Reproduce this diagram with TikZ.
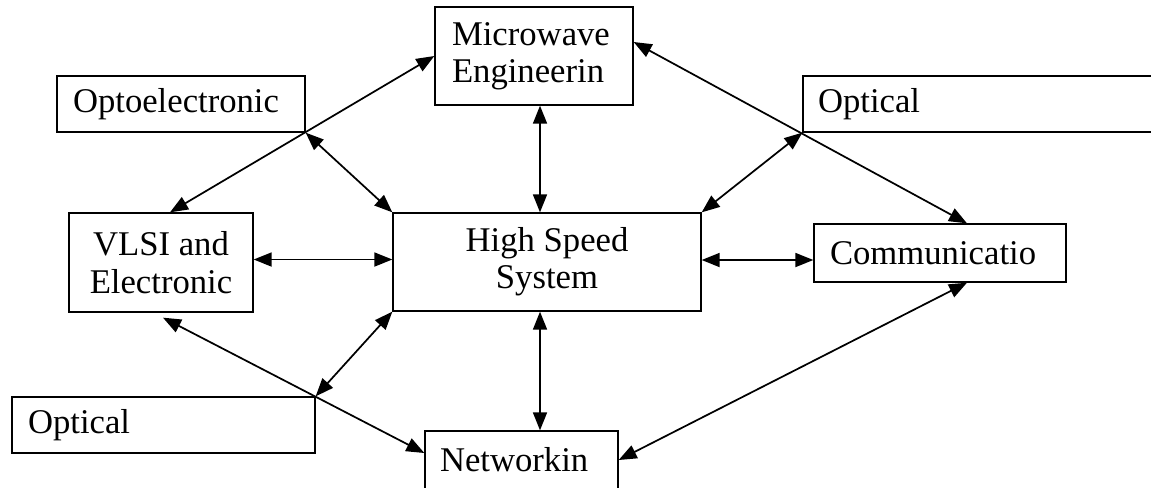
\documentclass[tikz,border=0pt]{standalone}
\usepackage{fontspec}
\setmainfont{Liberation Serif}
\usetikzlibrary{arrows.meta,calc}
\begin{document}
\begin{tikzpicture}[x=0.75pt,y=-0.75pt,
  >={Triangle[length=13.5pt,width=10.5pt]},
  box/.style={draw,line width=1pt,font=\fontsize{26}{28}\selectfont,inner ysep=0pt},
  lbox/.style n args={3}{box,text width=#1,minimum height=#2,inner xsep=#3,align=left},
  cbox/.style n args={2}{box,minimum width=#1,minimum height=#2,inner xsep=0pt,align=center},
  arr/.style={<->,line width=1.3pt}]
\useasboundingbox (0,0) rectangle (1151,487);
\clip (0,0) rectangle (1151,487);
\node[lbox={123pt}{73.5pt}{12.75pt}] (mw) at (534,56) {Microwave\\Engineerin};
\node[lbox={162pt}{42pt}{12pt}] (opto) at (181,104) {Optoelectronic};
\node[lbox={260.25pt}{42pt}{11.25pt}] (optr) at (991.5,104) {Optical};
\node[cbox={138pt}{74.25pt}] (vlsi) at (161,262.5) {VLSI and\\Electronic};
\node[cbox={231pt}{73.5pt}] (hs) at (547,262) {High Speed\\System};
\node[lbox={165pt}{43.5pt}{12pt}] (comm) at (940,253) {Communicatio};
\node[lbox={203.25pt}{42pt}{12pt}] (optl) at (163.5,425) {Optical};
\node[lbox={122.25pt}{43.5pt}{11.25pt}] (net) at (521.5,460) {Networkin};
\coordinate (vx) at (540,0);
% top left
\draw[arr] ($(vlsi.north)+(9,0)$) -- (mw.west);
\draw[arr] (opto.south east) -- (hs.north west);
% top right
\draw[arr] ($(mw.east)+(0,-14)$) -- ($(comm.north)+(27,0)$);
\draw[arr] (optr.south west) -- (hs.north east);
% verticals
\draw[arr] (vx |- mw.south) -- (vx |- hs.north);
\draw[arr] (vx |- hs.south) -- (vx |- net.north);
% horizontals
\draw[arr] ($(vlsi.east)+(0,-3)$) -- ($(vlsi.east -| hs.west)+(0,-3)$);
\draw[arr] ($(hs.east)+(0,-2)$) -- ($(hs.east -| comm.west)+(0,-2)$);
% bottom
\draw[arr] ($(vlsi.south)+(2,5)$) -- ($(net.west)+(0,-7)$);
\draw[arr] (optl.north east) -- (hs.south west);
\draw[arr] ($(comm.south)+(27,0)$) -- (net.east);
\end{tikzpicture}
\end{document}
